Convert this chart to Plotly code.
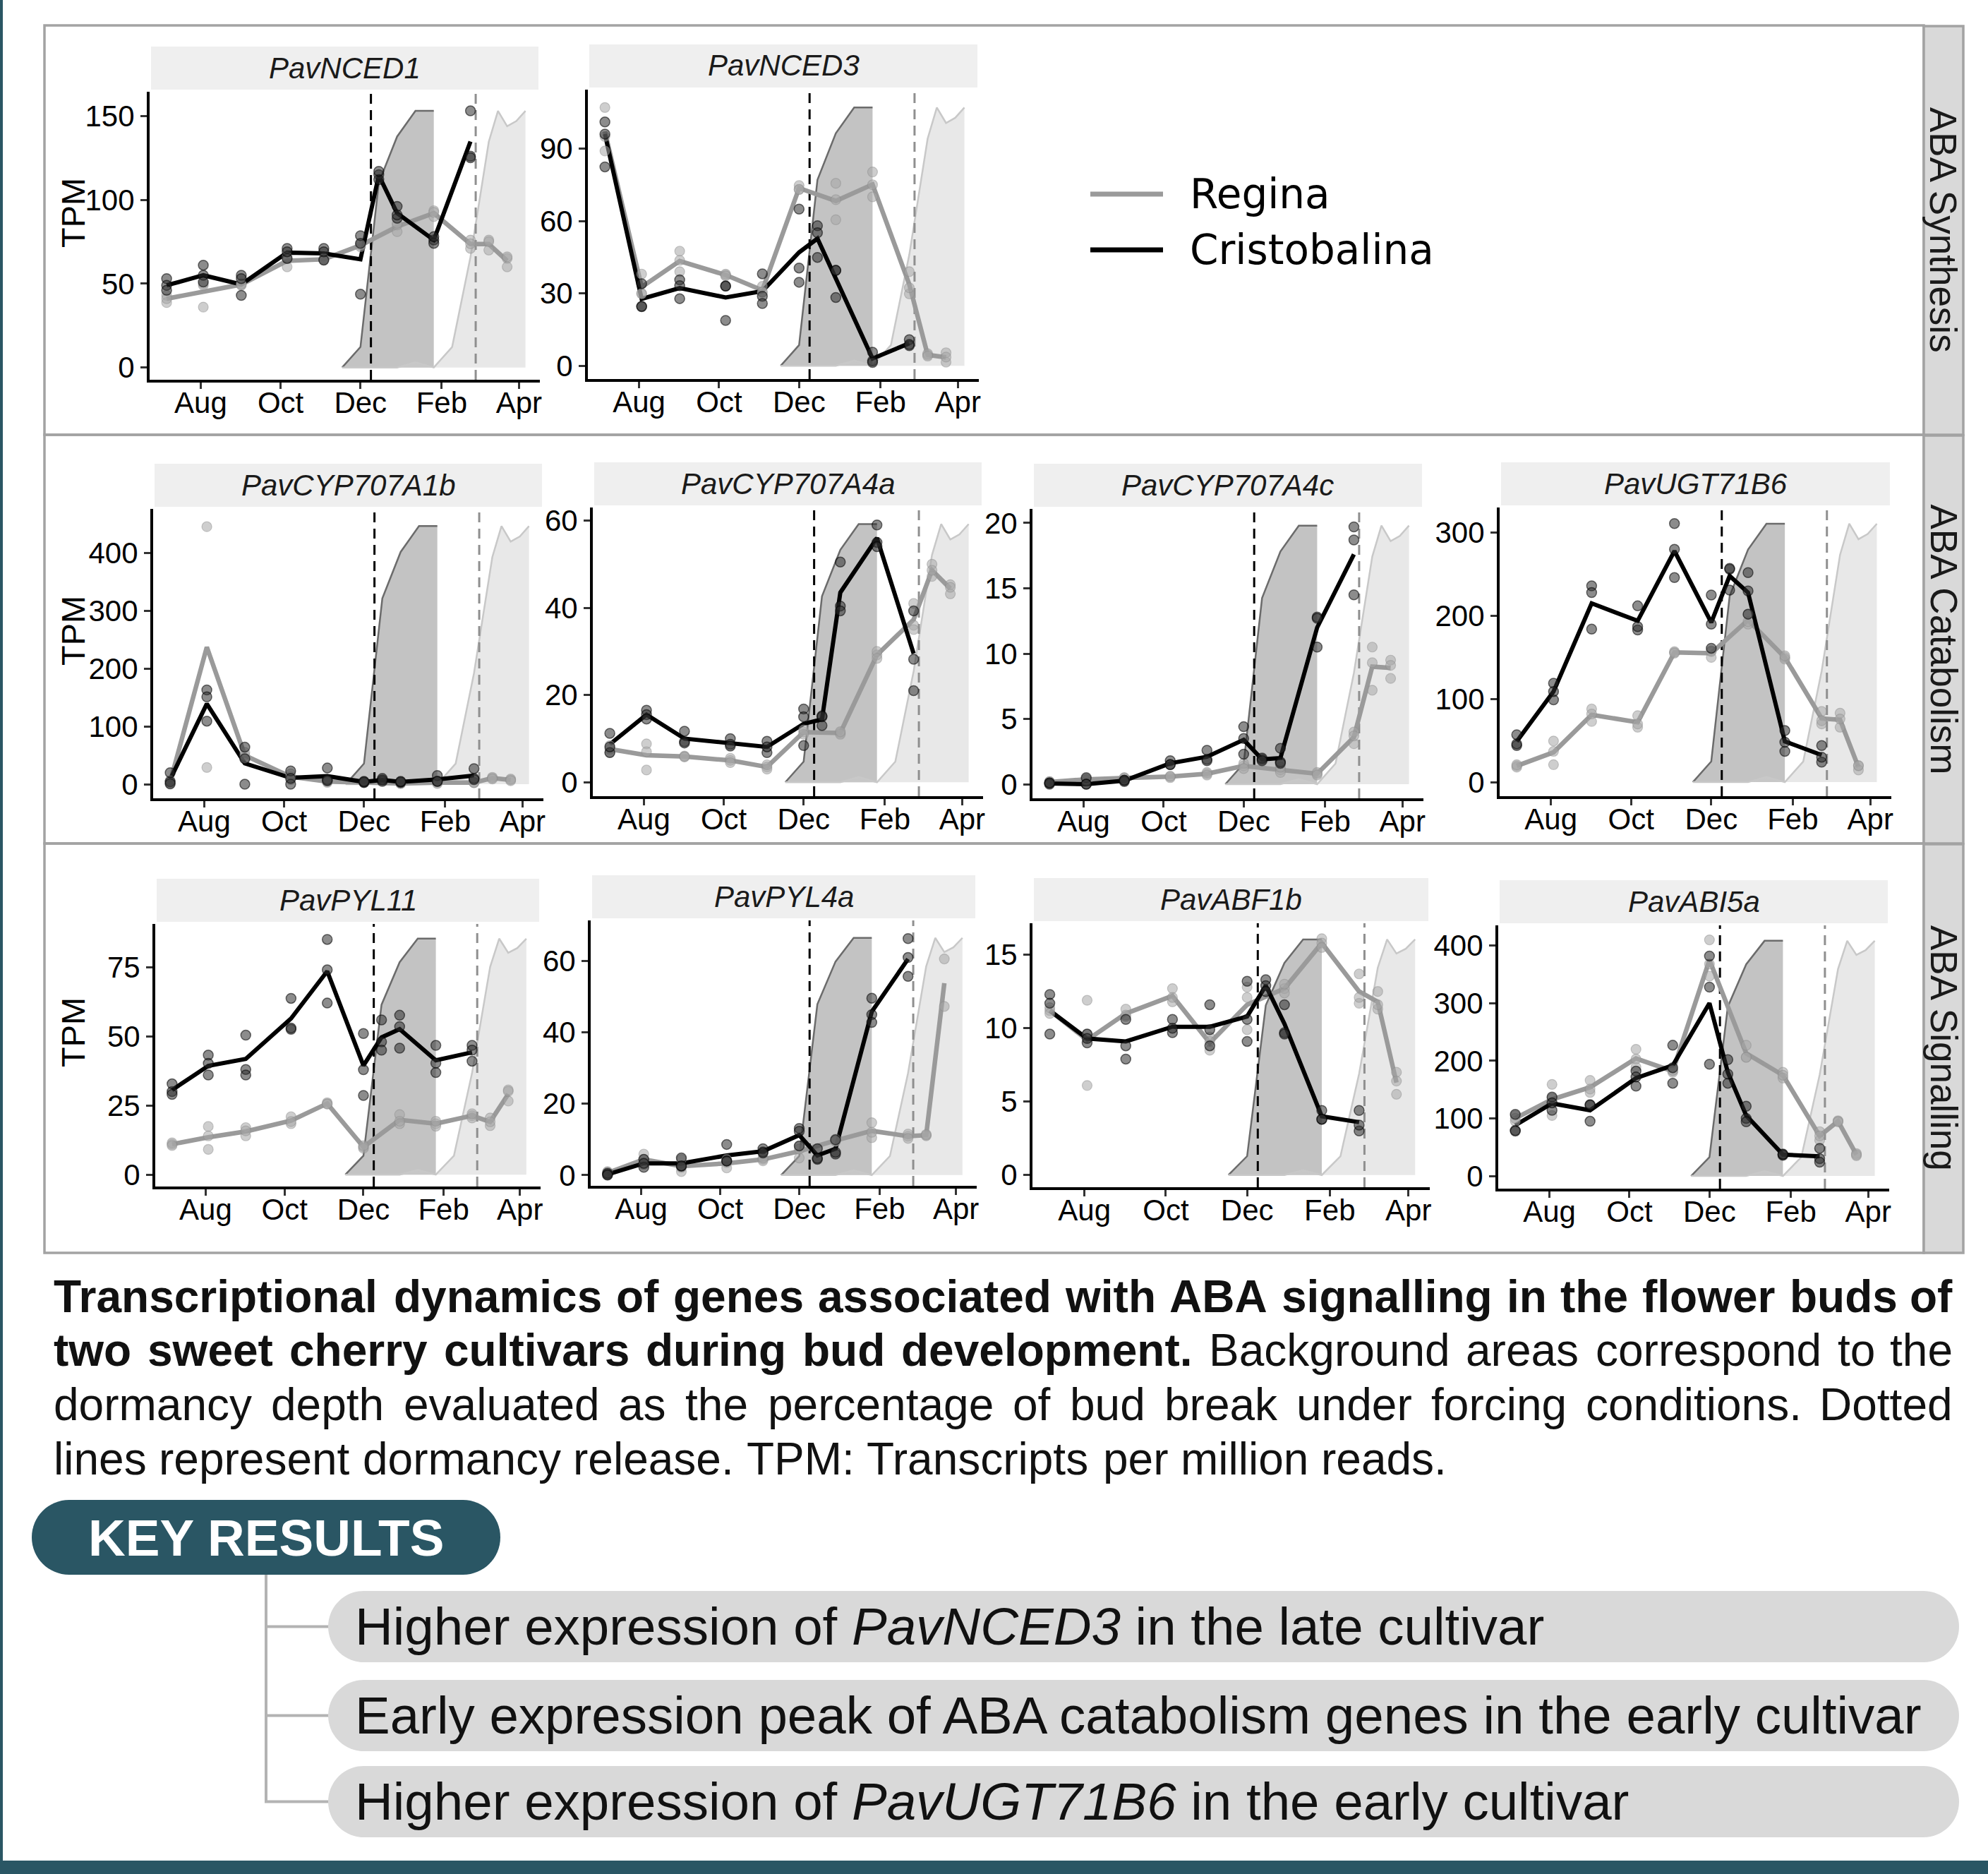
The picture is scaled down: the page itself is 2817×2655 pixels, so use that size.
import plotly.graph_objects as go

W, H = 2817, 2655

# ------------------------------------------------------------------ data
dates_C = ["2017-07-06", "2017-08-03", "2017-09-01", "2017-10-06", "2017-11-03",
           "2017-12-01", "2017-12-15", "2017-12-29", "2018-01-26", "2018-02-23"]
dates_R = ["2017-07-06", "2017-08-03", "2017-09-01", "2017-10-06", "2017-11-03",
           "2017-12-01", "2017-12-29", "2018-01-26", "2018-02-23", "2018-03-09", "2018-03-23"]

dorm_dates_C = ["2017-11-17", "2017-12-01", "2017-12-15", "2017-12-29", "2018-01-12", "2018-01-26"]
dorm_pct_C = [0, 8, 72, 90, 100, 100]
dorm_dates_R = ["2017-11-17", "2017-12-01", "2017-12-15", "2017-12-29", "2018-01-12", "2018-01-26",
                "2018-02-09", "2018-02-23", "2018-03-09", "2018-03-16", "2018-03-23", "2018-03-30", "2018-04-06"]
dorm_pct_R = [0, 0, 0, 0, 2, 0, 8, 43, 88, 100, 94, 96, 100]
release_C = "2017-12-09"
release_R = "2018-02-27"

month_ticks = ["2017-08-01", "2017-10-01", "2017-12-01", "2018-02-01", "2018-04-01"]
month_labels = ["Aug", "Oct", "Dec", "Feb", "Apr"]
x_range = ["2017-06-23", "2018-04-17"]

cultivars = ["Regina", "Cristobalina"]

NCED1_C_mean = [49, 55, 49.5, 68.5, 68, 64.5, 114.6, 92, 76, 134.7]
NCED1_C_reps = [[53, 49, 46], [61, 55, 51], [55, 53, 43], [71, 65, 69], [71, 64, 69],
                [78.6, 74, 43.7], [115, 112, 117], [96, 89, 91], [76, 74, 78], [153, 126, 125]]
NCED1_R_mean = [41, 45, 49.5, 63.6, 64.5, 72.8, 84, 92, 73.6, 73.6, 63.6]
NCED1_R_reps = [[43, 38.7, 41], [36, 49, 50], [50, 49, 49.5], [65, 60, 66], [64, 65, 64.5],
                [73, 72, 73.4], [81, 85, 86], [93.5, 90, 92.5], [71, 76, 73.8], [76, 70, 75], [65, 60, 66]]

NCED3_C_mean = [96, 27.7, 32.2, 28.3, 30.9, 47, 52.7, 35.8, 3.0, 9.3]
NCED3_C_reps = [[101, 96, 82.4], [34, 24.5, 24.6], [35.6, 33.2, 27.8], [18.8, 33, 33], [38.1, 28.8, 25.8],
                [64.9, 40.5, 34.6], [58, 55.1, 44.9], [39.5, 39.5, 28.3], [2.0, 1.4, 5.6], [10.8, 8.3, 8.8]]
NCED3_R_mean = [97, 32.6, 43.4, 37.6, 31.3, 73.6, 68.3, 75.1, 33.7, 4.5, 3.5]
NCED3_R_reps = [[107, 95, 89], [38, 30, 29.8], [47.5, 39, 43.7], [37.6, 38, 37.2], [32.9, 30.5, 30.5],
                [74.7, 73, 73.1], [75.6, 60.5, 68.8], [80.3, 70, 75], [39, 29.8, 32.3], [4.5, 5, 4], [5.4, 1.5, 3.6]]

CYP707A1b_C_mean = [8.4, 139, 36, 11, 14, 4, 7.5, 4, 8.4, 15]
CYP707A1b_C_reps = [[20, 4, 1], [163, 151, 109], [64, 0, 44], [23, 0, 10], [28, 8, 6],
                    [4, 3, 5], [10, 5, 7.5], [3, 4, 5], [15, 5, 5], [27, 10, 8]]
CYP707A1b_R_mean = [4, 237, 50, 13, 4.7, 2.8, 1.4, 2.8, 2.8, 10.7, 7.5]
CYP707A1b_R_reps = [[6, 0, 6], [445, 29], [50, 55, 45], [13, 18, 8], [4.7, 6, 3],
                    [2.8, 3, 2.6], [1.4, 2, 1], [2.8, 5, 1], [2.8, 3, 2.6], [10.7, 12, 9], [7.5, 9, 6]]

CYP707A4a_C_mean = [8.7, 15.5, 10, 9, 8.1, 13.4, 14.4, 43.5, 56, 29.5]
CYP707A4a_C_reps = [[11.2, 6.8, 8.1], [16.5, 15.5, 14.5], [11.7, 9.3, 9], [10, 8.7, 8.3], [9.4, 6.8, 8.1],
                    [16.8, 8.4, 15], [13, 15, 15.2], [50.5, 40.4, 39.3], [59, 55, 54], [39.3, 21, 28.2]]
CYP707A4a_R_mean = [7.6, 6.2, 5.9, 5, 3.5, 11.5, 11.3, 29.2, 37.3, 48.6, 44.4]
CYP707A4a_R_reps = [[6.8, 8.4, 7.6], [8.8, 2.8, 7], [5.9, 6, 5.8], [5, 5.5, 4.5], [3.5, 3, 4],
                    [11.5, 12, 11], [11.3, 11, 11.6], [29.2, 30, 28.4], [41, 36, 35], [50, 47.2, 48.6], [45.3, 43.2, 44.7]]

CYP707A4c_C_mean = [0.06, 0, 0.27, 1.6, 2.1, 3.4, 1.9, 2.0, 12, 17.6]
CYP707A4c_C_reps = [[0.1, 0, 0.1], [0.5, 0, 0], [0.3, 0.2, 0.3], [1.8, 1.5, 1.5], [2.6, 1.9, 1.8],
                    [4.4, 2.3, 3.5], [1.9, 2.0, 1.8], [2.75, 1.7, 1.6], [12.8, 10.5, 12.7], [19.7, 18.7, 14.5]]
CYP707A4c_R_mean = [0.17, 0.37, 0.47, 0.58, 0.8, 1.4, 1.1, 0.8, 3.6, 9.0, 8.9]
CYP707A4c_R_reps = [[0.2, 0.1, 0.2], [0.4, 0.3, 0.4], [0.5, 0.4, 0.5], [0.6, 0.5, 0.6], [0.8, 0.9, 0.7],
                    [1.4, 1.6, 1.2], [1.1, 0.9, 1.3], [0.8, 0.9, 0.7], [3.1, 4.0, 3.7], [10.5, 7.2, 9.3], [9.5, 8.1, 9.1]]

UGT71B6_C_mean = [48.9, 109, 215, 194, 278, 192, 248, 228, 49, 32.6]
UGT71B6_C_reps = [[57, 44, 46], [119, 99, 109], [236, 228, 184], [212, 183, 187], [311, 280, 246],
                  [225, 190, 161], [256, 231, 257], [252, 202, 230], [62, 37, 48], [44, 24, 30]]
UGT71B6_R_mean = [19.5, 35.8, 81, 72, 156, 155, 195, 150, 76.5, 75, 18]
UGT71B6_R_reps = [[19.5, 18, 21], [49.5, 21, 37], [88, 73, 82], [80, 66, 70], [156, 157, 155],
                  [150, 158, 157], [202, 190, 193], [150, 148, 152], [85, 70, 74], [83, 66, 76], [19.5, 14.7, 20]]

PYL11_C_mean = [30.6, 39.3, 41.8, 56.4, 73.5, 39.4, 49.6, 52.6, 41.3, 44.2]
PYL11_C_reps = [[30, 29, 32.8], [43.2, 40.2, 36], [50.4, 38, 36], [63.7, 52.5, 53], [85, 74, 62],
                [51, 37.9, 28.6], [55.9, 48, 45], [57.6, 53.5, 45.7], [46.7, 36.9, 40.3], [46.7, 45, 41]]
PYL11_R_mean = [11, 13.5, 15.6, 19.5, 25.7, 10, 19.8, 18.4, 21.3, 19.1, 29.1]
PYL11_R_reps = [[11, 11.5, 10.5], [17.4, 9.1, 14], [14, 17, 15.8], [20.9, 18.4, 19.2], [26, 25.5, 25.6],
                [10, 9.5, 10.5], [21.7, 18.4, 19.3], [18.4, 17.5, 19.3], [21.3, 20.5, 22], [20.5, 17.7, 19.1], [30.6, 26.6, 30.1]]

PYL4a_C_mean = [0.2, 3.3, 3.3, 5.5, 6.7, 11.2, 5.5, 7.4, 45.8, 60.6]
PYL4a_C_reps = [[0.2, 0.5, 0], [4.4, 2.2, 3.3], [4.8, 2.5, 2.6], [8.6, 4, 3.9], [7.4, 6.5, 6.2],
                [13.1, 8.2, 12.3], [7.4, 4.4, 4.7], [5.9, 9.9, 6.4], [49.6, 45, 42.8], [66.3, 61, 55.7]]
PYL4a_R_mean = [0.6, 4.4, 2.5, 3.3, 4.4, 6.7, 9.7, 12.4, 10.9, 11.2, 53.8]
PYL4a_R_reps = [[0, 1, 0.8], [5.9, 2.9, 4.4], [4.4, 1, 2.1], [4.4, 2, 3.5], [4.4, 4, 4.8],
                [4.8, 8, 7.3], [10.1, 9.5, 9.5], [14.7, 10.5, 12], [10.9, 11.5, 10.3], [11.2, 11, 11.4], [60.6, 47.3]]

ABF1b_C_mean = [11.2, 9.3, 9.1, 10.1, 10.1, 10.8, 12.9, 10.3, 4.0, 3.6]
ABF1b_C_reps = [[12.3, 11.7, 9.6], [9.6, 9.0, 9.3], [10.6, 8.8, 7.9], [10.6, 9.7, 10], [11.6, 8.8, 9.9],
                [13.2, 10.6, 9.1], [13.3, 12.9, 12.5], [11.6, 9.7, 9.6], [4.4, 3.8, 3.8], [4.4, 3.0, 3.4]]
ABF1b_R_mean = [11.2, 9.2, 11.0, 12.2, 9.0, 11.6, 12.7, 15.8, 12.5, 11.8, 6.3]
ABF1b_R_reps = [[11.2, 11.4, 11], [11.9, 6.1, 9.6], [11.3, 10.8, 10.9], [12.7, 11.8, 12.1], [8.5, 9.4, 9.1],
                [12.8, 9.9, 12.1], [12.7, 12.4, 13], [16.1, 15.8, 15.5], [13.7, 11.7, 12.1], [12.5, 11.3, 11.6], [7.0, 5.5, 6.4]]

ABI5a_C_mean = [88, 126, 114, 170, 192, 300, 180, 105, 37, 34]
ABI5a_C_reps = [[107, 79, 78], [137, 114, 127], [95, 124, 123], [182, 156, 172], [227, 161, 188],
                [382, 328, 194], [177, 161, 202], [121, 100, 94], [37, 36, 38], [48, 30, 24]]
ABI5a_R_mean = [100, 133, 154, 204, 182, 375, 213, 175, 69.5, 95, 37]
ABI5a_R_reps = [[105, 95, 100], [159, 105, 135], [166, 145, 151], [220, 189, 203], [180, 183, 183],
                [410, 368, 347], [227, 206, 206], [180, 170, 175], [62, 77, 69.5], [95, 96, 94], [39, 35, 37]]

gene_names = ["PavNCED1", "PavNCED3", "PavCYP707A1b", "PavCYP707A4a", "PavCYP707A4c",
              "PavUGT71B6", "PavPYL11", "PavPYL4a", "PavABF1b", "PavABI5a"]
gene_data = {
    "PavNCED1": (NCED1_C_mean, NCED1_C_reps, NCED1_R_mean, NCED1_R_reps),
    "PavNCED3": (NCED3_C_mean, NCED3_C_reps, NCED3_R_mean, NCED3_R_reps),
    "PavCYP707A1b": (CYP707A1b_C_mean, CYP707A1b_C_reps, CYP707A1b_R_mean, CYP707A1b_R_reps),
    "PavCYP707A4a": (CYP707A4a_C_mean, CYP707A4a_C_reps, CYP707A4a_R_mean, CYP707A4a_R_reps),
    "PavCYP707A4c": (CYP707A4c_C_mean, CYP707A4c_C_reps, CYP707A4c_R_mean, CYP707A4c_R_reps),
    "PavUGT71B6": (UGT71B6_C_mean, UGT71B6_C_reps, UGT71B6_R_mean, UGT71B6_R_reps),
    "PavPYL11": (PYL11_C_mean, PYL11_C_reps, PYL11_R_mean, PYL11_R_reps),
    "PavPYL4a": (PYL4a_C_mean, PYL4a_C_reps, PYL4a_R_mean, PYL4a_R_reps),
    "PavABF1b": (ABF1b_C_mean, ABF1b_C_reps, ABF1b_R_mean, ABF1b_R_reps),
    "PavABI5a": (ABI5a_C_mean, ABI5a_C_reps, ABI5a_R_mean, ABI5a_R_reps),
}
# value mapped to 100 % dormancy depth in each panel
ribbon_top = [153, 107, 446, 59.2, 19.8, 310.8, 85.3, 66.5, 16.05, 408.4]
y_ticks = [[0, 50, 100, 150], [0, 30, 60, 90], [0, 100, 200, 300, 400], [0, 20, 40, 60],
           [0, 5, 10, 15, 20], [0, 100, 200, 300], [0, 25, 50, 75], [0, 20, 40, 60],
           [0, 5, 10, 15], [0, 100, 200, 300, 400]]
y_ranges = [[-7.3, 164.4], [-5.5, 114.4], [-24.3, 475.7], [-3.2, 63.0], [-1.08, 21.08],
            [-16.9, 330.3], [-4.3, 90.6], [-3.0, 71.4], [-0.83, 17.15], [-22, 435.2]]

row_labels = ["ABA Synthesis", "ABA Catabolism", "ABA Signalling"]

caption_lines = [
    [("Transcriptional dynamics of genes associated with ABA signalling in the flower buds of", True)],
    [("two sweet cherry cultivars during bud development.", True), ("Background areas correspond to the", False)],
    [("dormancy depth evaluated as the percentage of bud break under forcing conditions. Dotted", False)],
    [("lines represent dormancy release. TPM: Transcripts per million reads.", False)],
]
key_title = "KEY RESULTS"
key_results = [
    "Higher expression of <i>PavNCED3</i> in the late cultivar",
    "Early expression peak of ABA catabolism genes in the early cultivar",
    "Higher expression of <i>PavUGT71B6</i> in the early cultivar",
]

# ------------------------------------------------------------------ layout geometry (pixels)
panel_boxes = [
    (212, 130, 765, 538), (833, 127, 1387, 537),
    (217, 721, 770, 1131), (840, 719, 1393, 1128), (1463, 721, 2017, 1131), (2125, 719, 2680, 1128),
    (220, 1309, 766, 1681), (837, 1304, 1384, 1680), (1463, 1308, 2026, 1682), (2123, 1311, 2677, 1684),
]
first_in_row = {0: 0, 2: 1, 6: 2}
row_boxes = [(63, 36, 2726, 616), (63, 616, 2726, 1195), (63, 1195, 2726, 1775)]

FONT = "Liberation Sans, Arial, sans-serif"
TEAL = "#2a5664"


def px(x):
    return x / W


def py(y):
    return 1 - y / H


fig = go.Figure()
layout = dict(width=W, height=H, margin=dict(l=0, r=0, t=0, b=0, pad=0, autoexpand=False),
              paper_bgcolor="white", plot_bgcolor="rgba(0,0,0,0)", showlegend=False)
shapes = []
annotations = []

for i, g in enumerate(gene_names):
    n = i + 1
    xa = "x" if n == 1 else f"x{n}"
    ya = "y" if n == 1 else f"y{n}"
    x0, y0, x1, y1 = panel_boxes[i]
    C_mean, C_reps, R_mean, R_reps = gene_data[g]
    top = ribbon_top[i]
    yr = y_ranges[i]

    # dormancy areas
    fig.add_trace(go.Scatter(x=dorm_dates_C, y=[p / 100 * top for p in dorm_pct_C], mode="lines",
                             fill="tozeroy", fillcolor="#c3c3c3",
                             line=dict(color="#6b6b6b", width=2.5), xaxis=xa, yaxis=ya,
                             hoverinfo="skip"))
    fig.add_trace(go.Scatter(x=dorm_dates_R, y=[p / 100 * top for p in dorm_pct_R], mode="lines",
                             fill="tozeroy", fillcolor="rgba(205,205,205,0.45)",
                             line=dict(color="#c8c8c8", width=2.5), xaxis=xa, yaxis=ya,
                             hoverinfo="skip"))
    # dormancy release
    fig.add_trace(go.Scatter(x=[release_C, release_C], y=yr, mode="lines",
                             line=dict(color="black", width=3, dash="14px,9px"), xaxis=xa, yaxis=ya))
    fig.add_trace(go.Scatter(x=[release_R, release_R], y=yr, mode="lines",
                             line=dict(color="#8f8f8f", width=3, dash="14px,9px"), xaxis=xa, yaxis=ya))
    # mean lines
    fig.add_trace(go.Scatter(x=dates_R, y=R_mean, mode="lines", name=cultivars[0],
                             line=dict(color="#9a9a9a", width=6.5), xaxis=xa, yaxis=ya))
    fig.add_trace(go.Scatter(x=dates_C, y=C_mean, mode="lines", name=cultivars[1],
                             line=dict(color="black", width=6), xaxis=xa, yaxis=ya))
    # replicates
    rx, ry = [], []
    for d, reps in zip(dates_R, R_reps):
        rx += [d] * len(reps)
        ry += reps
    cx, cy = [], []
    for d, reps in zip(dates_C, C_reps):
        cx += [d] * len(reps)
        cy += reps
    fig.add_trace(go.Scatter(x=rx, y=ry, mode="markers", xaxis=xa, yaxis=ya,
                             marker=dict(size=14, color="rgba(165,165,165,0.55)",
                                         line=dict(color="rgba(140,140,140,0.45)", width=1.2))))
    fig.add_trace(go.Scatter(x=cx, y=cy, mode="markers", xaxis=xa, yaxis=ya,
                             marker=dict(size=14, color="rgba(45,45,45,0.55)",
                                         line=dict(color="rgba(0,0,0,0.55)", width=1.5))))

    axis_common = dict(showline=True, linecolor="black", linewidth=4, ticks="outside",
                       ticklen=9, tickwidth=3, tickcolor="#333333", showgrid=False, zeroline=False,
                       automargin=False, tickfont=dict(family=FONT, size=42, color="black"))
    layout["xaxis" if n == 1 else f"xaxis{n}"] = dict(
        domain=[px(x0), px(x1)], anchor=ya, type="date", range=x_range,
        tickvals=month_ticks, ticktext=month_labels, ticklabelstandoff=-16, **axis_common)
    layout["yaxis" if n == 1 else f"yaxis{n}"] = dict(
        domain=[py(y1), py(y0)], anchor=xa, range=yr, tickvals=y_ticks[i],
        ticktext=[str(t) for t in y_ticks[i]], **axis_common)

    # facet strip
    shapes.append(dict(type="rect", xref="paper", yref="paper", x0=px(x0 + 2), x1=px(x1 - 2),
                       y0=py(y0 - 3), y1=py(y0 - 64), fillcolor="#efefef", line=dict(width=0),
                       layer="below"))
    annotations.append(dict(text=f"<i>{g}</i>", xref="paper", yref="paper", x=px((x0 + x1) / 2),
                            y=py(y0 - 34), showarrow=False, xanchor="center", yanchor="middle",
                            font=dict(family=FONT, size=42, color="#1a1a1a")))
    if i in first_in_row:
        annotations.append(dict(text="TPM", xref="paper", yref="paper", x=px(103),
                                y=py((y0 - 64 + y1) / 2), showarrow=False, textangle=-90,
                                xanchor="center", yanchor="middle",
                                font=dict(family=FONT, size=47, color="black")))

# row frames and right strips
for (bx0, by0, bx1, by1), lab in zip(row_boxes, row_labels):
    shapes.append(dict(type="rect", xref="paper", yref="paper", x0=px(bx0), x1=px(bx1),
                       y0=py(by0), y1=py(by1), line=dict(color="#a3a3a3", width=3.5),
                       fillcolor="rgba(0,0,0,0)", layer="below"))
    shapes.append(dict(type="rect", xref="paper", yref="paper", x0=px(bx1), x1=px(2782),
                       y0=py(by0 + 1), y1=py(by1), line=dict(color="#a3a3a3", width=3.5),
                       fillcolor="#d9d9d9", layer="below"))
    annotations.append(dict(text=lab, xref="paper", yref="paper", x=px((bx1 + 2782) / 2),
                            y=py((by0 + by1) / 2), showarrow=False, textangle=90,
                            xanchor="center", yanchor="middle",
                            font=dict(family=FONT, size=53, color="#1a1a1a")))

# legend
for (lab, col, yy) in [(cultivars[0], "#9a9a9a", 275), (cultivars[1], "black", 354)]:
    shapes.append(dict(type="line", xref="paper", yref="paper", x0=px(1545), x1=px(1648),
                       y0=py(yy), y1=py(yy), line=dict(color=col, width=7)))
    annotations.append(dict(text=lab, xref="paper", yref="paper", x=px(1684), y=py(yy),
                            showarrow=False, xanchor="left", yanchor="middle",
                            font=dict(family="DejaVu Sans", size=58, color="black")))

# ------------------------------------------------------------------ caption (justified)
AR = dict(zip("abcdefghijklmnopqrstuvwxyz", [556, 556, 500, 556, 556, 278, 556, 556, 222, 222, 500, 222, 833,
                                             556, 556, 556, 556, 333, 500, 278, 556, 500, 722, 500, 500, 500]))
AR.update(dict(zip("ABCDEFGHIJKLMNOPQRSTUVWXYZ", [667, 667, 722, 722, 667, 611, 778, 722, 278, 500, 667, 556, 833,
                                                 722, 778, 667, 778, 722, 667, 611, 722, 667, 944, 667, 667, 611])))
AR.update({".": 278, ",": 278, ":": 278, " ": 278})
AB = dict(zip("abcdefghijklmnopqrstuvwxyz", [556, 611, 556, 611, 556, 333, 611, 611, 278, 278, 556, 278, 889,
                                             611, 611, 611, 611, 389, 556, 333, 611, 556, 778, 556, 556, 500]))
AB.update(dict(zip("ABCDEFGHIJKLMNOPQRSTUVWXYZ", [722, 722, 722, 722, 667, 611, 778, 722, 278, 556, 722, 611, 833,
                                                 722, 778, 667, 778, 722, 667, 611, 722, 667, 944, 667, 667, 611])))
AB.update({".": 278, ",": 278, ":": 333, " ": 278})

CAP_FS = 64
cap_left, cap_right = 75, 2768
cap_y = [1837, 1913, 1990, 2067]


def wlen(word, bold):
    t = AB if bold else AR
    return sum(t.get(c, 556) for c in word) / 1000 * CAP_FS


for li, (segs, yy) in enumerate(zip(caption_lines, cap_y)):
    words = []
    for text, bold in segs:
        words += [(w, bold) for w in text.split(" ")]
    justify = li < len(caption_lines) - 1
    widths = [wlen(w, b) for w, b in words]
    gaps = len(words) - 1
    if justify:
        gap = (cap_right - cap_left - sum(widths)) / gaps
    else:
        gap = 0.278 * CAP_FS
    xx = cap_left
    for k, ((w, b), wd) in enumerate(zip(words, widths)):
        last = justify and k == len(words) - 1
        annotations.append(dict(text=f"<b>{w}</b>" if b else w, xref="paper", yref="paper",
                                x=px(cap_right) if last else px(xx), y=py(yy), showarrow=False,
                                xanchor="right" if last else "left", yanchor="middle", borderpad=0,
                                font=dict(family=FONT, size=CAP_FS, color="#111111")))
        xx += wd + gap


# ------------------------------------------------------------------ key results
def pill(x0, y0, x1, y1, r):
    k = 0.5523 * r

    def P(x, y):
        return f"{px(x):.6f},{py(y):.6f}"
    return (f"M {P(x0 + r, y0)} L {P(x1 - r, y0)} C {P(x1 - r + k, y0)} {P(x1, y0 + r - k)} {P(x1, y0 + r)} "
            f"L {P(x1, y1 - r)} C {P(x1, y1 - r + k)} {P(x1 - r + k, y1)} {P(x1 - r, y1)} "
            f"L {P(x0 + r, y1)} C {P(x0 + r - k, y1)} {P(x0, y1 - r + k)} {P(x0, y1 - r)} "
            f"L {P(x0, y0 + r)} C {P(x0, y0 + r - k)} {P(x0 + r - k, y0)} {P(x0 + r, y0)} Z")


# connectors
shapes.append(dict(type="line", xref="paper", yref="paper", x0=px(377), x1=px(377),
                   y0=py(2231), y1=py(2554), line=dict(color="#b3b3b3", width=4)))
res_boxes = [(465, 2254, 2776, 2355), (465, 2380, 2776, 2481), (465, 2502, 2776, 2603)]
for (bx0, by0, bx1, by1) in res_boxes:
    yc = (by0 + by1) / 2
    shapes.append(dict(type="line", xref="paper", yref="paper", x0=px(375), x1=px(bx0 + 5),
                       y0=py(yc), y1=py(yc), line=dict(color="#b3b3b3", width=4)))
for (bx0, by0, bx1, by1), txt in zip(res_boxes, key_results):
    shapes.append(dict(type="path", xref="paper", yref="paper",
                       path=pill(bx0, by0, bx1, by1, (by1 - by0) / 2),
                       fillcolor="#d9d9d9", line=dict(width=0)))
    annotations.append(dict(text=txt, xref="paper", yref="paper", x=px(502), y=py((by0 + by1) / 2),
                            showarrow=False, xanchor="left", yanchor="middle", borderpad=0,
                            font=dict(family=FONT, size=74.5, color="#111111")))

shapes.append(dict(type="path", xref="paper", yref="paper", path=pill(45, 2125, 709, 2231, 53),
                   fillcolor=TEAL, line=dict(width=0)))
annotations.append(dict(text=f"<b>{key_title}</b>", xref="paper", yref="paper", x=px(377), y=py(2178),
                        showarrow=False, xanchor="center", yanchor="middle",
                        font=dict(family=FONT, size=73, color="white")))

# page decorations
shapes.append(dict(type="rect", xref="paper", yref="paper", x0=0, x1=px(4), y0=0, y1=1,
                   fillcolor=TEAL, line=dict(width=0)))
shapes.append(dict(type="rect", xref="paper", yref="paper", x0=0, x1=1, y0=py(2655), y1=py(2636),
                   fillcolor=TEAL, line=dict(width=0)))

layout["shapes"] = shapes
layout["annotations"] = annotations
fig.update_layout(**layout)
fig.write_html("out.html", config={"displayModeBar": False},
               post_script="document.body.style.margin='0px';")
